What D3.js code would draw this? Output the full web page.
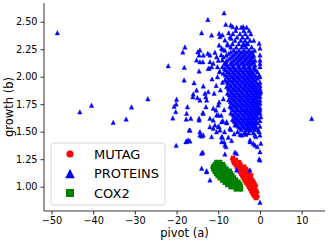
<!DOCTYPE html>
<html>
<head>
<meta charset="utf-8">
<script src="https://cdn.jsdelivr.net/npm/d3@7"></script>
<style>
  body { margin: 0; background: #fff; }
  svg { display: block; font-family: "DejaVu Sans", sans-serif; }
</style>
</head>
<body>
<div id="chart"></div>
<script>
// tick labels
const xTicks = [-50, -40, -30, -20, -10, 0, 10];
const yTicks = [1.00, 1.25, 1.50, 1.75, 2.00, 2.25, 2.50];

// MUTAG points [pivot, growth]
const mutag = [
  [-6.7,1.27],[-6.3,1.27],
  [-6.8,1.25],[-6.2,1.25],[-5.6,1.25],
  [-6.6,1.23],[-6.0,1.23],[-5.3,1.23],[-4.8,1.23],
  [-6.4,1.21],[-5.8,1.21],[-5.1,1.21],[-4.5,1.21],
  [-6.0,1.19],[-5.4,1.19],[-4.8,1.19],[-4.2,1.19],[-3.6,1.19],
  [-5.7,1.17],[-5.1,1.17],[-4.5,1.17],[-3.9,1.17],[-3.2,1.17],
  [-5.4,1.15],[-4.8,1.15],[-4.2,1.15],[-3.6,1.15],[-3.0,1.15],[-2.6,1.15],
  [-5.0,1.13],[-4.4,1.13],[-3.8,1.13],[-3.2,1.13],[-2.6,1.13],
  [-4.7,1.11],[-4.1,1.11],[-3.5,1.11],[-2.9,1.11],[-2.3,1.11],[-1.9,1.11],
  [-4.4,1.09],[-3.8,1.09],[-3.2,1.09],[-2.6,1.09],[-2.0,1.09],
  [-4.1,1.07],[-3.5,1.07],[-2.9,1.07],[-2.3,1.07],[-1.7,1.07],
  [-3.8,1.05],[-3.2,1.05],[-2.6,1.05],[-2.0,1.05],[-1.4,1.05],
  [-3.5,1.03],[-2.9,1.03],[-2.3,1.03],[-1.7,1.03],[-1.1,1.03],
  [-3.1,1.01],[-2.5,1.01],[-1.9,1.01],[-1.3,1.01],[-0.8,1.01],
  [-2.8,0.99],[-2.2,0.99],[-1.6,0.99],[-1.0,0.99],
  [-2.5,0.97],[-1.9,0.97],[-1.3,0.97],[-0.7,0.97],
  [-2.2,0.95],[-1.6,0.95],[-1.0,0.95],[-0.5,0.95],
  [-1.9,0.93],[-1.3,0.93],[-0.7,0.93],
  [-1.6,0.91],[-1.0,0.91],[-0.4,0.91],
  [-1.2,0.89],[-0.7,0.89]
];

// PROTEINS points, sparse outer ones
const proteinsOuter = [
  [-48.6,2.40],[-43.2,1.68],[-40.4,1.74],[-35.2,1.585],[-32.1,1.615],[-30.8,1.725],[-26.9,1.80],[12.4,1.62],
  [-22.0,2.10],[-20.1,1.376],[-20.0,1.795],[-20.1,1.752],[-20.6,1.73],[-20.9,1.625],[-20.2,1.682],
  [-18.2,1.97],[-18.0,2.27],[-18.5,2.225],[-18.15,2.085],
  [-14.0,2.40],[-12.5,2.52],[-8.6,2.58],[-8.2,2.476],[-11.6,2.379],[-9.8,2.394],[-9.6,2.364],
  [-7.0,2.47],[-6.55,2.455],[-5.6,2.449],[-4.0,2.455],
  [-14.9,2.227],[-14.6,2.197],[-15.2,2.152],[-14.4,2.136],[-14.6,2.052],[-14.4,2.243],[-13.6,2.197],[-13.7,2.136],
  [-12.5,2.213],[-12.0,2.136],[-12.2,2.076],[-12.0,2.197],[-12.4,2.076],[-11.6,2.091],
  [-10.8,2.222],[-10.4,2.182],[-11.2,2.122],[-10.2,2.091],[-9.6,2.045],[-9.0,2.152],[-9.8,2.288],[-9.2,2.258],
  [-8.4,2.334],[-7.75,2.288],[-3.2,2.304],[-3.8,2.288],[-2.0,2.152],
  [-15.8,1.945],[-15.2,1.879],[-16.1,1.818],[-14.4,1.788],[-13.2,1.849],[-12.8,1.788],[-12.95,1.727],[-13.7,1.673],
  [-13.6,1.915],[-16.0,1.843],[-15.0,1.81],[-13.0,1.818],[-12.4,1.864],
  [-17.4,1.727],[-17.6,1.667],[-16.6,1.622],[-16.95,1.515],[-17.2,1.425],[-17.75,1.409],[-17.7,1.615],[-16.8,1.515],
  [-14.6,1.622],[-14.4,1.50],[-14.0,1.461],[-12.0,1.545],[-11.6,1.455],[-11.2,1.606],[-10.55,1.697],[-10.0,1.652],
  [-10.4,1.50],[-9.8,1.545],[-9.2,1.455],[-8.6,1.409],[-8.15,1.364],
  [-13.6,1.667],[-14.6,1.606],[-12.0,1.622],[-11.2,1.713],[-10.0,1.743],[-10.4,1.652],[-9.2,1.591],[-10.8,1.561],[-8.0,1.591],
  [-13.6,1.47],[-11.2,1.531],[-9.6,1.515],[-7.2,1.531],[-6.0,1.561],[-4.8,1.476],[-3.4,1.476],[-2.4,1.515],
  [-1.2,1.47],[-0.4,1.515],[-2.4,1.409],[-1.2,1.379],[-8.4,1.379],[-9.2,1.409],[-6.0,1.313],[0,1.318],
  [-17.6,1.415],[-16.8,1.415],[-14.4,1.47],[-13.7,1.313],[-14.0,1.304],[-12.8,1.145],[-14.0,1.167],[-12.0,1.061],[-12.8,1.136],
  [-5.4,1.50],[-4.4,1.47],[-3.4,1.485],[-2.8,1.531],[-2.4,1.425],[-1.6,1.395],[-1.0,1.455],[-0.65,1.364],
  [-0.2,1.50],[0,1.47],[0.2,1.395],[0,1.243],[0,0.858],
  [-0.2,2.304],[0,2.152],[0,2.122],[-0.2,2.015],[0,1.895],[0.2,1.864],[0,1.788],[0,1.697],[0.2,1.636],
  [0,2.197],[0,2.091],[0,2.0],[0,2.26],[0,1.95],[0,1.92],[0,1.85],[0,1.82],[0,1.76],[0,1.72],[0,1.67],[0,1.60],[0,1.55],
  [-8.4,1.297],[-5.6,1.303],[-5.6,1.152],[-0.2,1.252],[-2.4,1.152],
  [-9.0,1.95],[-9.5,1.88],[-8.8,1.80],[-9.8,1.77],[-8.6,1.70],[-9.3,1.65],[-10.5,1.92],[-11.0,1.85],[-10.2,2.0],
  [-9.7,2.05],[-11.5,1.98],[-8.9,1.60],[-10.0,1.55],[-8.5,1.50],[-7.6,1.45],[-6.8,1.42],[-9.0,1.45],[-6.2,1.48],
  [-7.0,1.52],[-8.0,1.58],[-9.3,2.20],[-8.9,2.25],[-10.0,2.15],[-7.5,2.40],[-6.9,2.35],[-9.0,2.38]
];

// PROTEINS points, dense core
const proteinsCore = [
  [-4.5,2.45],[-3.2,2.45],
  [-5.8,2.42],[-3.9,2.42],[-2.6,2.42],
  [-6.5,2.39],[-4.8,2.39],[-3.5,2.39],[-2.2,2.39],
  [-7.2,2.36],[-5.5,2.36],[-4.2,2.36],[-3.0,2.36],
  [-6.0,2.33],[-4.6,2.33],[-3.6,2.33],[-2.4,2.33],[-1.5,2.33],
  [-7.8,2.30],[-6.6,2.30],[-5.1,2.30],[-4.0,2.30],[-2.9,2.30],
  [-7.0,2.27],[-5.7,2.27],[-4.4,2.27],[-3.3,2.27],[-2.0,2.27],
  [-8.4,2.24],[-6.3,2.24],[-5.0,2.24],[-3.8,2.24],[-2.6,2.24],[-1.3,2.24],
  [-7.5,2.21],[-6.0,2.21],[-4.7,2.21],[-3.5,2.21],[-2.3,2.21],
  [-8.8,2.18],[-6.8,2.18],[-5.4,2.18],[-4.2,2.18],[-3.0,2.18],[-1.8,2.18],
  [-7.9,2.15],[-6.3,2.15],[-5.0,2.15],[-3.7,2.15],[-2.5,2.15],[-1.2,2.15],
  [-8.5,2.12],[-7.1,2.12],[-5.8,2.12],[-4.5,2.12],[-3.2,2.12],[-2.0,2.12],
  [-9.0,2.09],[-7.6,2.09],[-6.4,2.09],[-5.2,2.09],[-4.0,2.09],[-2.8,2.09],[-1.5,2.09],
  [-8.2,2.06],[-6.9,2.06],[-5.7,2.06],[-4.5,2.06],[-3.3,2.06],[-2.2,2.06],[-1.0,2.06],
  [-8.8,2.03],[-7.4,2.03],[-6.2,2.03],[-5.0,2.03],[-3.8,2.03],[-2.6,2.03],[-1.6,2.03],
  [-7.9,2.00],[-6.7,2.00],[-5.5,2.00],[-4.3,2.00],[-3.1,2.00],[-2.0,2.00],[-0.9,2.00],
  [-8.4,1.97],[-7.2,1.97],[-6.0,1.97],[-4.8,1.97],[-3.6,1.97],[-2.5,1.97],[-1.4,1.97],
  [-7.6,1.94],[-6.4,1.94],[-5.2,1.94],[-4.0,1.94],[-2.9,1.94],[-1.8,1.94],[-0.7,1.94],
  [-8.0,1.91],[-6.9,1.91],[-5.7,1.91],[-4.5,1.91],[-3.3,1.91],[-2.2,1.91],[-1.2,1.91],
  [-7.3,1.88],[-6.1,1.88],[-4.9,1.88],[-3.7,1.88],[-2.6,1.88],[-1.5,1.88],[-0.5,1.88],
  [-7.8,1.85],[-6.6,1.85],[-5.4,1.85],[-4.2,1.85],[-3.0,1.85],[-1.9,1.85],[-0.9,1.85],
  [-7.1,1.82],[-5.9,1.82],[-4.7,1.82],[-3.5,1.82],[-2.4,1.82],[-1.3,1.82],[-0.4,1.82],
  [-7.5,1.79],[-6.3,1.79],[-5.1,1.79],[-3.9,1.79],[-2.8,1.79],[-1.7,1.79],[-0.7,1.79],
  [-6.8,1.76],[-5.6,1.76],[-4.4,1.76],[-3.2,1.76],[-2.1,1.76],[-1.1,1.76],[-0.3,1.76],
  [-7.2,1.73],[-6.0,1.73],[-4.8,1.73],[-3.6,1.73],[-2.5,1.73],[-1.5,1.73],[-0.6,1.73],
  [-6.5,1.70],[-5.3,1.70],[-4.1,1.70],[-3.0,1.70],[-1.9,1.70],[-0.9,1.70],
  [-7.0,1.67],[-5.7,1.67],[-4.5,1.67],[-3.4,1.67],[-2.3,1.67],[-1.3,1.67],[-0.4,1.67],
  [-6.2,1.64],[-5.0,1.64],[-3.8,1.64],[-2.7,1.64],[-1.7,1.64],[-0.8,1.64],
  [-6.6,1.61],[-5.4,1.61],[-4.2,1.61],[-3.1,1.61],[-2.1,1.61],[-1.1,1.61],
  [-5.8,1.58],[-4.6,1.58],[-3.5,1.58],[-2.5,1.58],[-1.5,1.58],[-0.6,1.58],
  [-5.2,1.55],[-4.0,1.55],[-2.9,1.55],[-1.9,1.55],[-1.0,1.55],
  [-4.5,1.52],[-3.3,1.52],[-2.3,1.52],[-1.3,1.52],
  [-3.8,1.49],[-2.7,1.49],[-1.6,1.49]
];

// PROTEINS points filling the gaps inside the core
const proteinsFill = [
  [-7.0,2.225],[-5.6,2.225],[-4.3,2.225],[-3.1,2.225],[-1.9,2.225],
  [-8.1,2.195],[-6.4,2.195],[-5.0,2.195],[-3.8,2.195],[-2.6,2.195],[-1.5,2.195],
  [-7.3,2.165],[-5.8,2.165],[-4.6,2.165],[-3.3,2.165],[-2.1,2.165],
  [-8.2,2.135],[-6.7,2.135],[-5.4,2.135],[-4.1,2.135],[-2.8,2.135],[-1.6,2.135],
  [-7.9,2.105],[-6.5,2.105],[-5.1,2.105],[-3.8,2.105],[-2.5,2.105],[-1.2,2.105],
  [-8.5,2.075],[-7.2,2.075],[-6.0,2.075],[-4.8,2.075],[-3.6,2.075],[-2.4,2.075],[-1.3,2.075],
  [-7.8,2.045],[-6.5,2.045],[-5.3,2.045],[-4.1,2.045],[-2.9,2.045],[-1.9,2.045],[-0.6,2.045],
  [-8.3,2.015],[-7.1,2.015],[-5.9,2.015],[-4.7,2.015],[-3.5,2.015],[-2.4,2.015],[-1.3,2.015],
  [-7.5,1.985],[-6.3,1.985],[-5.1,1.985],[-3.9,1.985],[-2.8,1.985],[-1.7,1.985],[-0.6,1.985],
  [-7.9,1.955],[-6.7,1.955],[-5.5,1.955],[-4.3,1.955],[-3.2,1.955],[-2.1,1.955],[-1.0,1.955],
  [-7.2,1.925],[-6.0,1.925],[-4.8,1.925],[-3.6,1.925],[-2.5,1.925],[-1.5,1.925],[-0.4,1.925],
  [-7.6,1.895],[-6.4,1.895],[-5.2,1.895],[-4.0,1.895],[-2.9,1.895],[-1.8,1.895],[-0.8,1.895],
  [-6.9,1.865],[-5.7,1.865],[-4.5,1.865],[-3.3,1.865],[-2.2,1.865],[-1.2,1.865],[-0.3,1.865],
  [-7.4,1.835],[-6.2,1.835],[-5.0,1.835],[-3.8,1.835],[-2.7,1.835],[-1.6,1.835],[-0.6,1.835],
  [-6.7,1.805],[-5.5,1.805],[-4.3,1.805],[-3.1,1.805],[-2.0,1.805],[-1.0,1.805],
  [-7.1,1.775],[-5.9,1.775],[-4.7,1.775],[-3.5,1.775],[-2.4,1.775],[-1.4,1.775],[-0.5,1.775],
  [-6.4,1.745],[-5.2,1.745],[-4.0,1.745],[-2.9,1.745],[-1.8,1.745],[-0.8,1.745],
  [-6.8,1.715],[-5.6,1.715],[-4.4,1.715],[-3.3,1.715],[-2.2,1.715],[-1.2,1.715],[-0.3,1.715],
  [-6.0,1.685],[-4.8,1.685],[-3.6,1.685],[-2.6,1.685],[-1.6,1.685],[-0.6,1.685],
  [-6.5,1.655],[-5.3,1.655],[-4.1,1.655],[-3.0,1.655],[-2.0,1.655],[-1.0,1.655],
  [-5.8,1.625],[-4.6,1.625],[-3.5,1.625],[-2.5,1.625],[-1.5,1.625],[-0.5,1.625],
  [-6.2,1.595],[-5.0,1.595],[-3.9,1.595],[-2.9,1.595],[-1.9,1.595],[-1.0,1.595],
  [-5.5,1.565],[-4.3,1.565],[-3.2,1.565],[-2.2,1.565],[-1.3,1.565],
  [-4.8,1.535],[-3.7,1.535],[-2.7,1.535],[-1.7,1.535],[-0.8,1.535]
];

// COX2 points
const cox2 = [
  [-10.6,1.23],[-10.0,1.23],[-9.4,1.23],
  [-11.0,1.21],[-10.4,1.21],[-9.8,1.21],[-9.2,1.21],[-8.7,1.21],
  [-11.4,1.19],[-10.8,1.19],[-10.2,1.19],[-9.6,1.19],[-9.0,1.19],[-8.4,1.19],
  [-11.5,1.17],[-10.9,1.17],[-10.3,1.17],[-9.7,1.17],[-9.1,1.17],[-8.5,1.17],[-7.9,1.17],
  [-11.3,1.15],[-10.7,1.15],[-10.1,1.15],[-9.5,1.15],[-8.9,1.15],[-8.3,1.15],[-7.6,1.15],[-7.1,1.15],
  [-11.0,1.13],[-10.4,1.13],[-9.8,1.13],[-9.2,1.13],[-8.6,1.13],[-8.0,1.13],[-7.4,1.13],[-6.8,1.13],
  [-10.7,1.11],[-10.1,1.11],[-9.5,1.11],[-8.9,1.11],[-8.3,1.11],[-7.7,1.11],[-7.1,1.11],[-6.5,1.11],
  [-10.3,1.09],[-9.7,1.09],[-9.1,1.09],[-8.5,1.09],[-7.9,1.09],[-7.3,1.09],[-6.7,1.09],[-6.1,1.09],
  [-9.8,1.07],[-9.2,1.07],[-8.6,1.07],[-8.0,1.07],[-7.4,1.07],[-6.8,1.07],[-6.2,1.07],[-5.6,1.07],
  [-9.2,1.05],[-8.6,1.05],[-8.0,1.05],[-7.4,1.05],[-6.8,1.05],[-6.2,1.05],[-5.6,1.05],[-5.0,1.05],
  [-8.6,1.03],[-8.0,1.03],[-7.4,1.03],[-6.8,1.03],[-6.2,1.03],[-5.6,1.03],[-5.0,1.03],[-4.6,1.03],
  [-8.0,1.01],[-7.4,1.01],[-6.8,1.01],[-6.2,1.01],[-5.6,1.01],[-5.0,1.01],[-4.5,1.01],
  [-7.2,0.99],[-6.6,0.99],[-6.0,0.99],[-5.4,0.99],[-4.8,0.99],[-4.4,0.99],
  [-6.0,0.97],[-5.4,0.97],[-4.8,0.97],[-4.4,0.97]
];

const seriesNames = ['MUTAG', 'PROTEINS', 'COX2'];
const seriesColors = ['#ff0000', '#0000ff', '#008000'];

const W = 329, H = 242;
const margin = { left: 44, right: 4, top: 3, bottom: 31 };

const svg = d3.select('#chart').append('svg').attr('width', W).attr('height', H);
svg.append('rect').attr('width', W).attr('height', H).attr('fill', '#fff');

const x = d3.scaleLinear().domain([-51.8, 15.6]).range([margin.left, W - margin.right]);
const y = d3.scaleLinear().domain([0.779, 2.67]).range([H - margin.bottom, margin.top]);

// marker paths
function triPath(s) {
  return `M0,${-s / 2}L${s / 2},${s / 2}L${-s / 2},${s / 2}Z`;
}

const plot = svg.append('g');

// MUTAG (drawn first)
plot.selectAll('.mutag').data(mutag).join('circle')
  .attr('cx', d => x(d[0])).attr('cy', d => y(d[1]))
  .attr('r', 1.6).attr('fill', seriesColors[0]);

// PROTEINS
plot.selectAll('.prot').data(proteinsOuter.concat(proteinsCore, proteinsFill)).join('path')
  .attr('transform', d => `translate(${x(d[0])},${y(d[1])})`)
  .attr('d', triPath(4.4))
  .attr('fill', seriesColors[1]).attr('stroke', seriesColors[1]).attr('stroke-width', 0.4);

// COX2
plot.selectAll('.cox').data(cox2).join('rect')
  .attr('x', d => x(d[0]) - 1.6).attr('y', d => y(d[1]) - 1.6)
  .attr('width', 3.2).attr('height', 3.2).attr('fill', seriesColors[2]);

// axes
const xAxis = svg.append('g')
  .attr('transform', `translate(0,${H - margin.bottom})`)
  .call(d3.axisBottom(x).tickValues(xTicks).tickSize(3.5).tickPadding(3));
const yAxis = svg.append('g')
  .attr('transform', `translate(${margin.left},0)`)
  .call(d3.axisLeft(y).tickValues(yTicks).tickFormat(d3.format('.2f')).tickSize(3.5).tickPadding(3));

[xAxis, yAxis].forEach(a => {
  a.selectAll('text').attr('font-size', '9.7px').attr('fill', '#000')
    .attr('font-family', '"DejaVu Sans", sans-serif');
  a.selectAll('line').attr('stroke', '#000').attr('stroke-width', 0.8);
  a.select('.domain').attr('stroke', '#000').attr('stroke-width', 0.8);
});
yAxis.select('.domain').attr('d', `M0,${H - margin.bottom}V${margin.top}`);
xAxis.select('.domain').attr('d', `M${margin.left},0H${W - margin.right}`);

// axis labels
svg.append('text')
  .attr('x', (margin.left + W - margin.right) / 2).attr('y', 237)
  .attr('text-anchor', 'middle').attr('font-size', '11.5px').text('pivot (a)');
svg.append('text')
  .attr('transform', `translate(13,${(margin.top + H - margin.bottom) / 2}) rotate(-90)`)
  .attr('text-anchor', 'middle').attr('font-size', '11.5px').text('growth (b)');

// legend
const lg = svg.append('g');
lg.append('rect')
  .attr('x', 51).attr('y', 143).attr('width', 114).attr('height', 62).attr('rx', 3)
  .attr('fill', '#fff').attr('fill-opacity', 0.8).attr('stroke', '#cccccc').attr('stroke-width', 0.8);

seriesNames.forEach((name, i) => {
  const cy = 154 + i * 19.5;
  if (i === 0) {
    lg.append('circle').attr('cx', 70).attr('cy', cy).attr('r', 3.6).attr('fill', seriesColors[0]);
  } else if (i === 1) {
    lg.append('path').attr('transform', `translate(70,${cy})`).attr('d', triPath(9.5)).attr('fill', seriesColors[1]);
  } else {
    lg.append('rect').attr('x', 66).attr('y', cy - 4).attr('width', 8).attr('height', 8).attr('fill', seriesColors[2]);
  }
  lg.append('text').attr('x', 94).attr('y', cy + 4.7).attr('font-size', '13px').attr('fill', '#000').text(name);
});
</script>
</body>
</html>
